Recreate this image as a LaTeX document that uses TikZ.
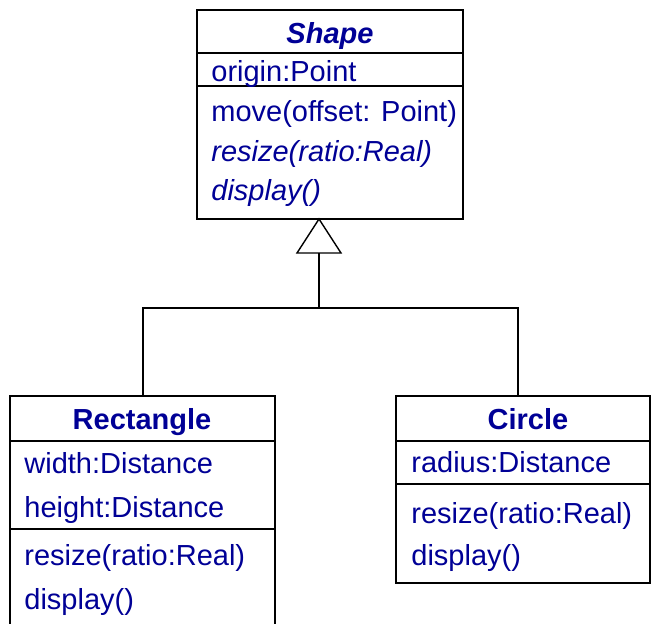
\documentclass[tikz,border=0pt]{standalone}
\usepackage{fontspec}
\setmainfont{Liberation Sans}
\definecolor{umlblue}{RGB}{0,0,150}
\begin{document}
\begin{tikzpicture}[x=0.5pt,y=-0.5pt,
  box/.style={draw=black,line width=0.7pt,fill=white},
  ln/.style={draw=black,line width=0.7pt},
  txt/.style={anchor=base west,inner sep=0pt,text=umlblue,font=\fontsize{14.5}{17}\selectfont},
  ttl/.style={anchor=base,inner sep=0pt,text=umlblue,font=\fontsize{14.5}{17}\selectfont\bfseries}]
\useasboundingbox (0,0) rectangle (654,623);
\clip (0,0) rectangle (654,623);
% Shape class
\draw[box] (197,10) rectangle (463,219);
\draw[ln] (197,53) -- (463,53);
\draw[ln] (197,86) -- (463,86);
\node[ttl,font=\fontsize{14.5}{17}\selectfont\bfseries\itshape] (shapeT) at (330,43) {Shape};
\node[txt] (shapeA) at (211,81) {origin:Point};
\node[txt] (shapeM1) at (211,121) {move(offset: Point)};
\node[txt,font=\fontsize{14.5}{17}\selectfont\itshape] (shapeM2) at (211,161) {resize(ratio:Real)};
\node[txt,font=\fontsize{14.5}{17}\selectfont\itshape] (shapeM3) at (211,200) {display()};
\coordinate (apex) at (319,219);
\coordinate (join) at (319,308);
% Rectangle class
\draw[box] (10,396) rectangle (275,660);
\draw[ln] (10,441) -- (275,441);
\draw[ln] (10,529) -- (275,529);
\node[ttl] (rectT) at (142,429) {Rectangle};
\node[txt] (rectA1) at (24,473) {width:Distance};
\node[txt] (rectA2) at (24,517) {height:Distance};
\node[txt] (rectM1) at (24,565) {resize(ratio:Real)};
\node[txt] (rectM2) at (24,609) {display()};
\coordinate (rectTop) at (143,396);
% Circle class
\draw[box] (396,396) rectangle (650,583);
\draw[ln] (396,441) -- (650,441);
\draw[ln] (396,484) -- (650,484);
\node[ttl] (circT) at (528,429) {Circle};
\node[txt] (circA1) at (411,472) {radius:Distance};
\node[txt] (circM1) at (411,523) {resize(ratio:Real)};
\node[txt] (circM2) at (411,565) {display()};
\coordinate (circTop) at (518,396);
% generalization
\draw[ln,fill=white] (apex) -- (297,253) -- (341,253) -- cycle;
\draw[ln] (319,253) -- (join);
\draw[ln] (rectTop) |- (join) -| (circTop);
\end{tikzpicture}
\end{document}
